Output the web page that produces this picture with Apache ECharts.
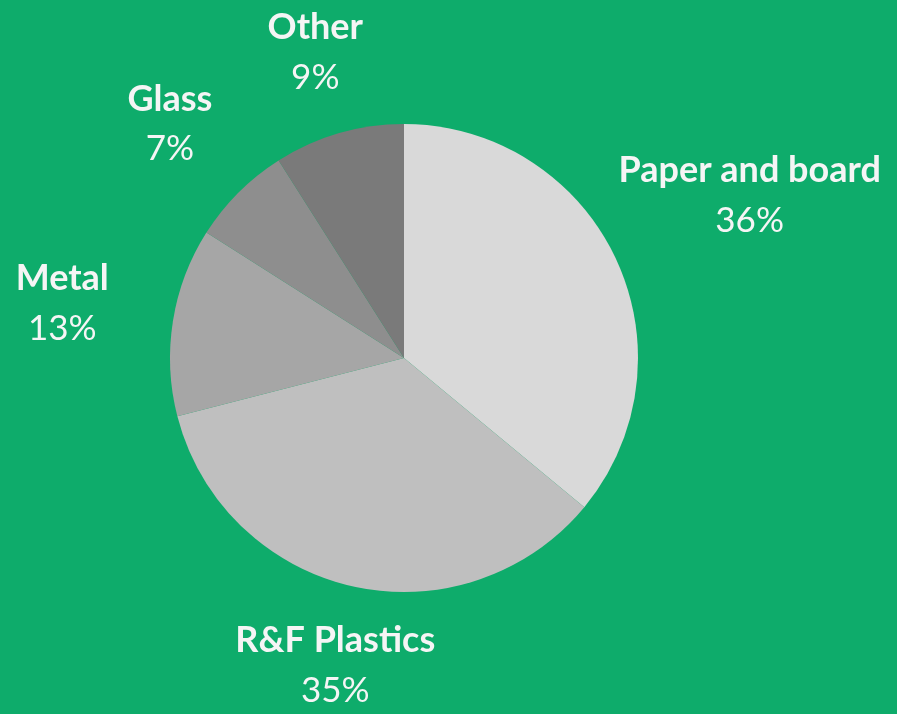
<!DOCTYPE html>
<html>
<head>
<meta charset="utf-8">
<script src="https://cdn.jsdelivr.net/npm/echarts@6/dist/echarts.min.js"></script>
<style>
html,body{margin:0;padding:0;background:#0eac6b;}
#c{width:897px;height:714px;}
</style>
</head>
<body>
<div id="c"></div>
<script>
const categories = ['Paper and board', 'R&F Plastics', 'Metal', 'Glass', 'Other'];
const values = [36, 35, 13, 7, 9];
const sliceColors = ['#d9d9d9', '#bfbfbf', '#a6a6a6', '#8e8e8e', '#7a7a7a'];
const labelRadius = [382, 315, 346, 331, 318];

const CX = 404, CY = 358, R = 234;
const total = values.reduce((a, b) => a + b, 0);
const midAngles = [];
let acc = 0;
values.forEach(v => { midAngles.push((acc + v / 2) / total * 2 * Math.PI); acc += v; });

const chart = echarts.init(document.getElementById('c'));
chart.setOption({
  backgroundColor: '#0eac6b',
  animation: false,
  series: [{
    type: 'pie',
    center: [CX, CY],
    radius: R,
    startAngle: 90,
    clockwise: true,
    silent: true,
    data: categories.map((n, i) => ({ name: n, value: values[i], itemStyle: { color: sliceColors[i] } })),
    label: {
      show: true,
      position: 'outside',
      overflow: 'none',
      formatter: p => '{b|' + p.name + '}\n{p|' + p.value + '%}',
      rich: {
        b: { fontFamily: 'Lato', fontWeight: 'bold', fontSize: 36, color: '#f5f5f5', lineHeight: 50, align: 'center' },
        p: { fontFamily: 'Lato', fontWeight: 'normal', fontSize: 35, color: '#f5f5f5', lineHeight: 50, align: 'center' }
      }
    },
    labelLine: { show: false },
    labelLayout: function (params) {
      const i = params.dataIndex;
      const a = midAngles[i];
      return {
        x: CX + labelRadius[i] * Math.sin(a),
        y: CY - labelRadius[i] * Math.cos(a),
        align: 'center',
        verticalAlign: 'middle'
      };
    }
  }]
});
</script>
</body>
</html>
